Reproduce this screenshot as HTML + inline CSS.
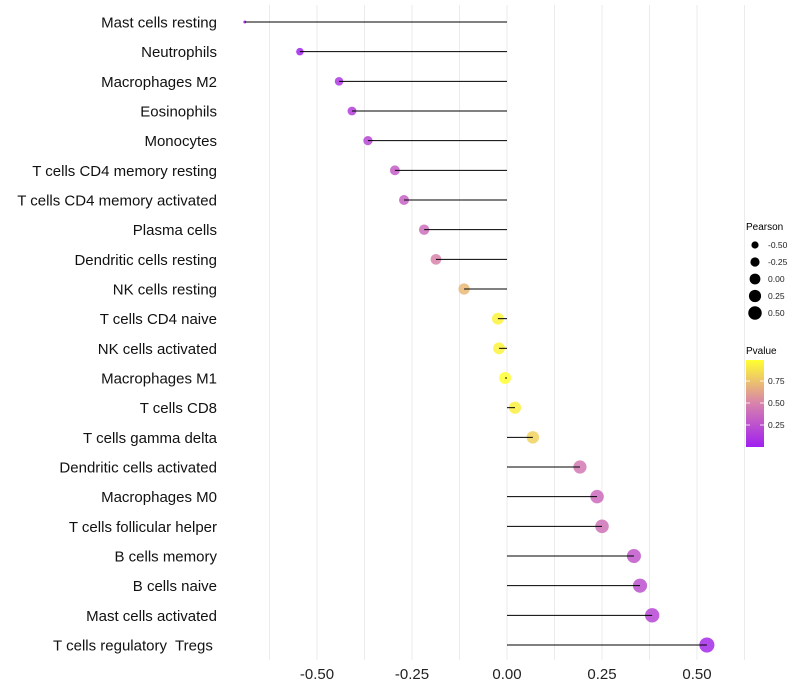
<!DOCTYPE html>
<html><head><meta charset="utf-8">
<style>
body{margin:0;background:#fff;}
svg{display:block;font-family:"Liberation Sans",sans-serif;}
text{white-space:pre;}
</style></head>
<body>
<svg id="chart" width="800" height="700" xmlns="http://www.w3.org/2000/svg">
<g id="grid"></g>
<g id="marks"></g>
<g id="ylabels"></g>
<g id="xlabels"></g>
<g id="sizeLegend">
<text x="746" y="230" font-size="10" fill="#000">Pearson</text>
</g>
<defs>
<linearGradient id="pg" x1="0" y1="1" x2="0" y2="0">
<stop offset="0" stop-color="#A020F0"/>
<stop offset="0.5" stop-color="#D882AC"/>
<stop offset="1" stop-color="#FFFF30"/>
</linearGradient>
</defs>
<g>
<text x="746" y="354" font-size="10" fill="#000">Pvalue</text>
<rect x="746" y="360" width="18" height="87" fill="url(#pg)"/>
<g id="colorTicks"></g>
</g>
</svg>
<script>
const categories=["Mast cells resting","Neutrophils","Macrophages M2","Eosinophils","Monocytes","T cells CD4 memory resting","T cells CD4 memory activated","Plasma cells","Dendritic cells resting","NK cells resting","T cells CD4 naive","NK cells activated","Macrophages M1","T cells CD8","T cells gamma delta","Dendritic cells activated","Macrophages M0","T cells follicular helper","B cells memory","B cells naive","Mast cells activated","T cells regulatory  Tregs "];
const pearson=[-0.69,-0.545,-0.442,-0.408,-0.366,-0.295,-0.271,-0.218,-0.187,-0.113,-0.024,-0.021,-0.005,0.021,0.068,0.192,0.237,0.25,0.334,0.35,0.382,0.526];
const pvalue=[0.0,0.02,0.12,0.15,0.2,0.3,0.33,0.4,0.5,0.72,0.95,0.95,1.0,0.93,0.82,0.45,0.38,0.42,0.28,0.25,0.2,0.05];
const xTicks=[-0.5,-0.25,0,0.25,0.5];
const xTickLabels=["-0.50","-0.25","0.00","0.25","0.50"];
const sizeLegendVals=[-0.5,-0.25,0,0.25,0.5];
const sizeLegendLabels=["-0.50","-0.25","0.00","0.25","0.50"];
const colorLegendVals=[0.25,0.5,0.75];
const colorLegendLabels=["0.25","0.50","0.75"];

const NS="http://www.w3.org/2000/svg";
const x=v=>507+v*380;
const y=i=>22+i*(645-22)/21;
const rad=v=>{const v2=36+40*v;return v<-0.6?Math.max(1.5,Math.sqrt(Math.max(0,v2))-1.5):Math.sqrt(v2);};
function lerp(a,b,t){return a.map((c,k)=>Math.round(c+(b[k]-c)*t));}
function col(p){const s=[[160,32,240],[216,130,172],[255,255,48]];let c=p<0.5?lerp(s[0],s[1],p/0.5):lerp(s[1],s[2],(p-0.5)/0.5);return `rgb(${c.join(',')})`;}
function mk(tag,attrs,parent){const e=document.createElementNS(NS,tag);for(const k in attrs)e.setAttribute(k,attrs[k]);parent.appendChild(e);return e;}

const grid=document.getElementById('grid');
for(let v=-0.625;v<=0.626;v+=0.125){
  const g=mk('line',{x1:x(v),x2:x(v),y1:5,y2:660,stroke:'#ebebeb','stroke-width':1},grid);
  
  
}
const marks=document.getElementById('marks');
const yl=document.getElementById('ylabels');
categories.forEach((c,i)=>{
  const pt=mk('circle',{cx:x(pearson[i]),cy:y(i),r:rad(pearson[i]),fill:col(pvalue[i]),'fill-opacity':0.85},marks);
  
  
  const ln=mk('line',{x1:x(pearson[i]),x2:x(0),y1:y(i),y2:y(i),stroke:'#000','stroke-width':1},marks);
  
  
  const t=mk('text',{x:217,y:y(i)+5.5,'text-anchor':'end','font-size':15,fill:'#111'},yl);
  t.textContent=c;
  
  
});
const xl=document.getElementById('xlabels');
xTicks.forEach((v,i)=>{
  const t=mk('text',{x:x(v),y:679,'text-anchor':'middle','font-size':15,fill:'#222'},xl);
  t.textContent=xTickLabels[i];
  
  
});
const sl=document.getElementById('sizeLegend');
sizeLegendVals.forEach((v,i)=>{
  const cy=245+i*17;
  const c=mk('circle',{cx:755,cy:cy,r:rad(v)*0.9,fill:'#000'},sl);
  
  
  const t=mk('text',{x:768,y:cy+3,'font-size':8.5,fill:'#222'},sl);
  t.textContent=sizeLegendLabels[i];
  
  
});
const ct=document.getElementById('colorTicks');
colorLegendVals.forEach((p,i)=>{
  const cy=447-p*88;
  mk('line',{x1:746,x2:750,y1:cy,y2:cy,stroke:'#fff','stroke-width':0.8},ct);
  mk('line',{x1:760,x2:764,y1:cy,y2:cy,stroke:'#fff','stroke-width':0.8},ct);
  const t=mk('text',{x:768,y:cy+3,'font-size':8.5,fill:'#222'},ct);
  t.textContent=colorLegendLabels[i];
  
  
});
</script>
</body></html>
